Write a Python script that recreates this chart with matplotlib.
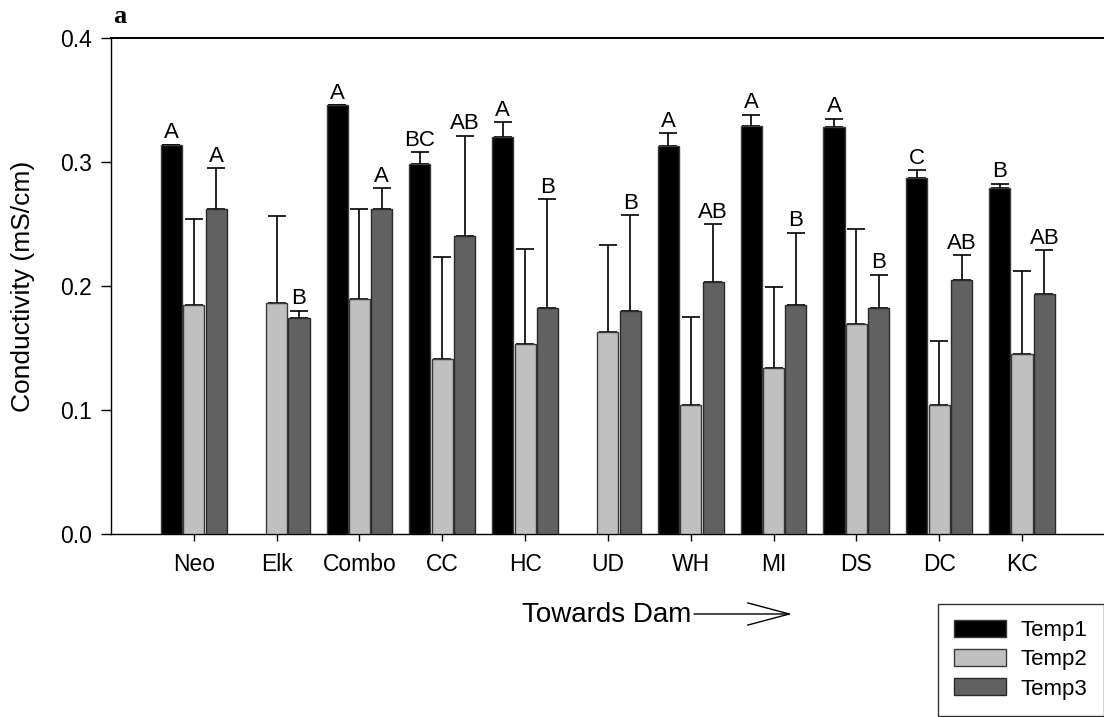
import numpy as np
import matplotlib
matplotlib.use("Agg")
import matplotlib.pyplot as plt
from matplotlib.patches import Patch

plt.rcParams['font.family'] = ['Liberation Sans', 'DejaVu Sans']

sites = ["Neo", "Elk", "Combo", "CC", "HC", "UD", "WH", "MI", "DS", "DC", "KC"]
series = ["Temp1", "Temp2", "Temp3"]

temp1 = [0.314, np.nan, 0.346, 0.298, 0.320, np.nan, 0.313, 0.329, 0.328, 0.287, 0.279]
temp1_err = [0.0, np.nan, 0.0, 0.010, 0.012, np.nan, 0.010, 0.009, 0.007, 0.0065, 0.0035]
temp2 = [0.185, 0.186, 0.1895, 0.141, 0.153, 0.163, 0.104, 0.134, 0.169, 0.104, 0.145]
temp2_err = [0.069, 0.0705, 0.0725, 0.082, 0.077, 0.070, 0.071, 0.065, 0.077, 0.052, 0.067]
temp3 = [0.262, 0.174, 0.2624, 0.2403, 0.182, 0.180, 0.203, 0.185, 0.182, 0.205, 0.1935]
temp3_err = [0.033, 0.006, 0.0164, 0.081, 0.088, 0.077, 0.047, 0.058, 0.027, 0.020, 0.0355]

letters1 = ["A", "", "A", "BC", "A", "", "A", "A", "A", "C", "B"]
letters3 = ["A", "B", "A", "AB", "B", "B", "AB", "B", "B", "AB", "AB"]

yticks = [0.0, 0.1, 0.2, 0.3, 0.4]

colors = ["#000000", "#c0c0c0", "#616161"]
edges = ["#3a3a3a", "#3a3a3a", "#2a2a2a"]

W, H = 1104, 717
fig = plt.figure(figsize=(W / 100, H / 100), dpi=100)
ax = fig.add_axes([111 / W, 1 - 534 / H, 1.0 - 111 / W, (534 - 38) / H])

x = np.arange(len(sites))
step = 0.27
bw = 0.254
vals = [temp1, temp2, temp3]
errs = [temp1_err, temp2_err, temp3_err]

for i, (v, e) in enumerate(zip(vals, errs)):
    xi = x + (i - 1) * step
    v = np.array(v, dtype=float)
    e = np.array(e, dtype=float)
    ax.bar(xi, v, width=bw, color=colors[i], edgecolor=edges[i], linewidth=1.0,
           zorder=3, label=series[i])
    ax.errorbar(xi, v, yerr=[np.zeros_like(e), e], fmt='none', ecolor='black',
                elinewidth=1.2, capsize=6.5, capthick=1.2, zorder=2)

fs = 16.5
lfs = 16
for j in range(len(sites)):
    if letters1[j]:
        top = temp1[j] + temp1_err[j]
        ax.annotate(letters1[j], (x[j] - step, top), xytext=(0, 1.0),
                    textcoords='offset points', ha='center', va='bottom', fontsize=lfs)
    if letters3[j]:
        top = temp3[j] + temp3_err[j]
        ax.annotate(letters3[j], (x[j] + step, top), xytext=(0, 1.0),
                    textcoords='offset points', ha='center', va='bottom', fontsize=lfs)

ax.set_xlim(-1.0, 10.99)
ax.set_ylim(0, 0.4)
ax.set_yticks(yticks)
ax.set_yticklabels([f"{t:.1f}" for t in yticks])
ax.set_xticks(x)
ax.set_xticklabels(sites)
ax.tick_params(axis='y', direction='out', length=7, width=1, pad=7, labelsize=fs)
ax.tick_params(axis='x', direction='out', length=5, width=1, pad=9, labelsize=fs)
ax.spines['right'].set_visible(False)
ax.spines['top'].set_linewidth(1.4)
ax.spines['left'].set_linewidth(1.0)
ax.spines['bottom'].set_linewidth(1.0)

fig.text(23 / W, 1 - 286 / H, "Conductivity (mS/cm)", rotation=90,
         ha='center', va='center', fontsize=19)

fig.text(113 / W, 1 - 23 / H, "a", family=['Liberation Serif', 'DejaVu Serif'],
         fontweight='bold', fontsize=19, ha='left', va='baseline')

# Towards Dam arrow
fig.text(522 / W, 1 - 615 / H, "Towards Dam", fontsize=20, ha='left', va='center')
ax.annotate("", xy=(792 / W, 1 - 614 / H), xytext=(694 / W, 1 - 614 / H),
            xycoords='figure fraction', textcoords='figure fraction',
            arrowprops=dict(arrowstyle='->,head_length=3.0,head_width=0.8',
                            mutation_scale=10, lw=1.0, color='black',
                            shrinkA=0, shrinkB=0))

handles = [Patch(facecolor=colors[i], edgecolor=edges[i], linewidth=1.0) for i in range(3)]
leg = fig.legend(handles, series, loc='lower left',
                 bbox_to_anchor=(938 / W, 1 - 715.5 / H),
                 bbox_transform=fig.transFigure,
                 fontsize=16, frameon=True, fancybox=False, shadow=False,
                 borderpad=0.72, labelspacing=0.36, handlelength=2.35,
                 handleheight=0.8, handletextpad=0.65, borderaxespad=0)
leg.get_frame().set_edgecolor('black')
leg.get_frame().set_linewidth(1.0)

fig.savefig("out.png", dpi=100)
